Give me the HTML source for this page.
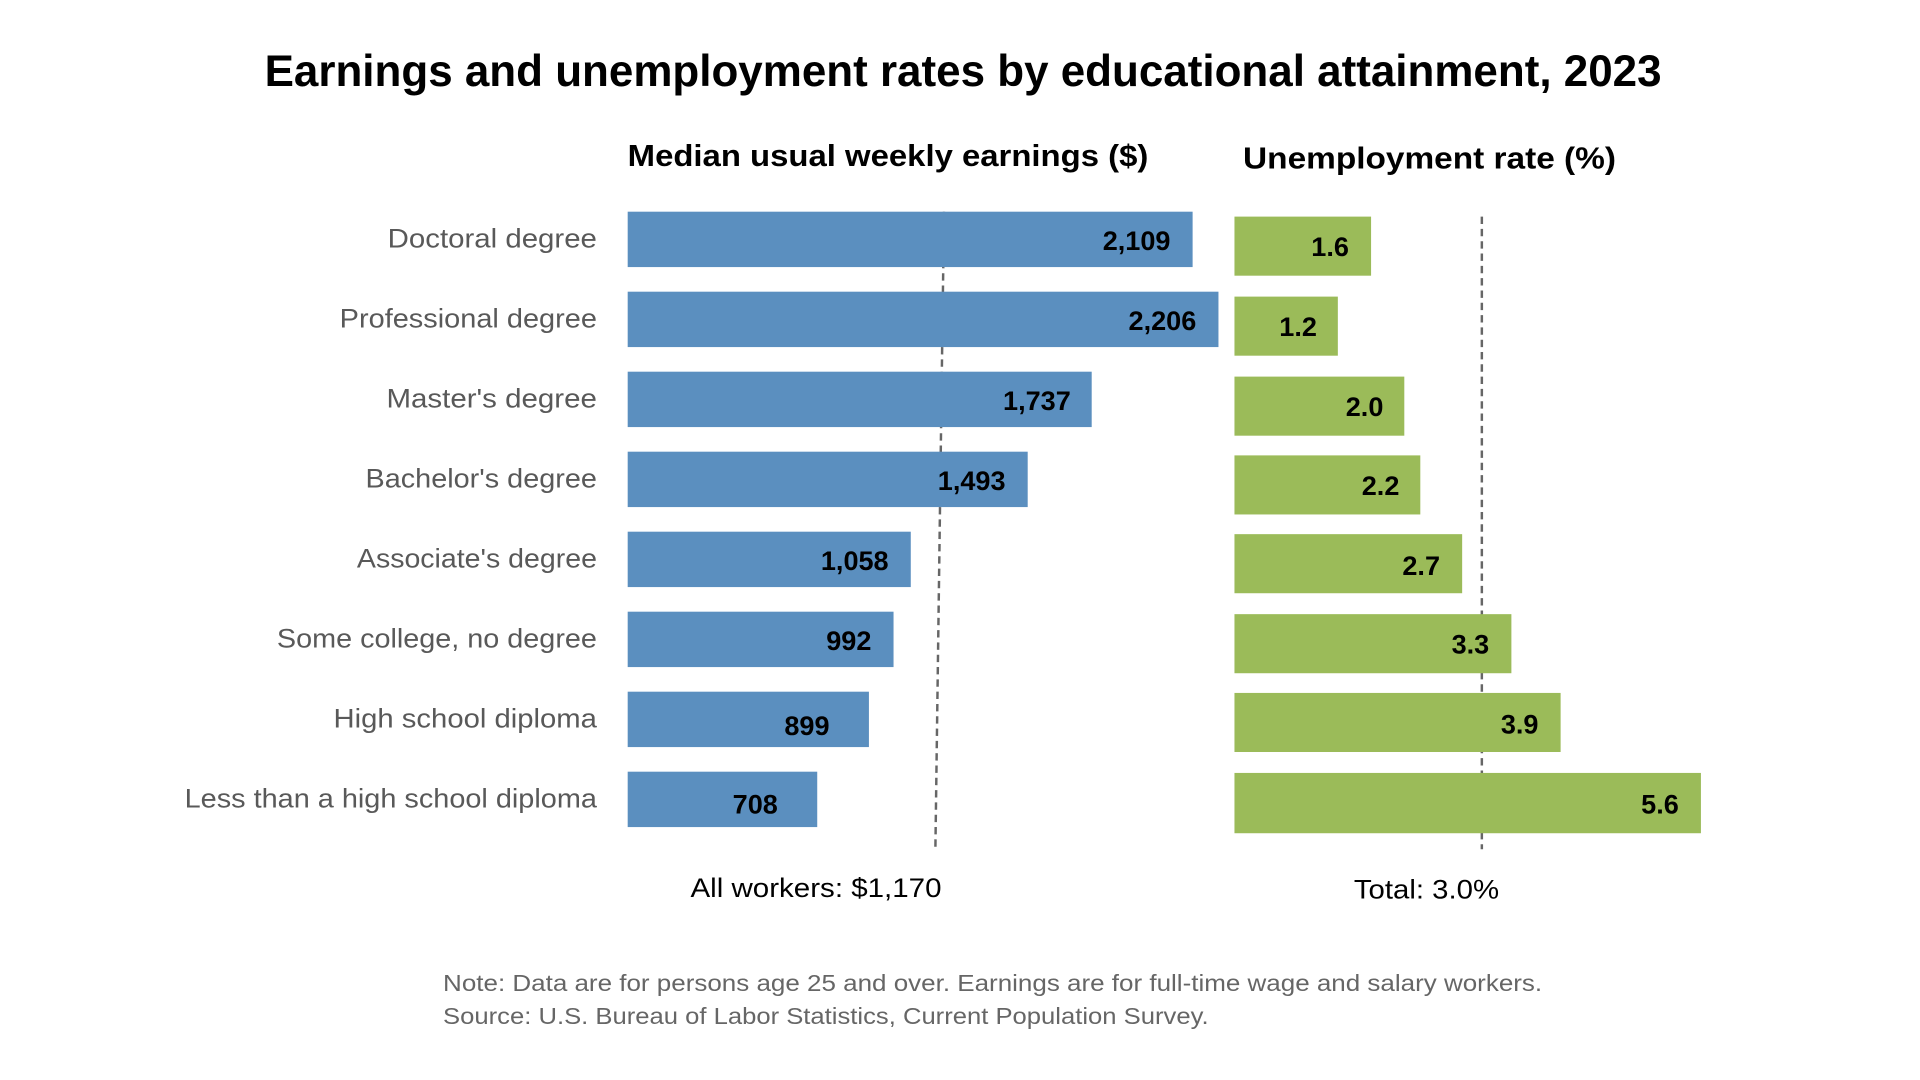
<!DOCTYPE html>
<html><head><meta charset="utf-8"><style>
html,body{margin:0;padding:0;background:#fff;}
svg{display:block;}
text{font-family:"Liberation Sans",Arial,sans-serif;}
</style></head><body>
<svg width="1920" height="1080" viewBox="0 0 1560 877.5" xmlns="http://www.w3.org/2000/svg">
<rect width="1560" height="877.5" fill="#fff"/>
<text x="215" y="70" font-size="36" font-weight="bold" fill="#000" textLength="1135" lengthAdjust="spacingAndGlyphs">Earnings and unemployment rates by educational attainment, 2023</text>
<text x="510" y="135" font-size="25" font-weight="bold" fill="#000" textLength="423" lengthAdjust="spacingAndGlyphs">Median usual weekly earnings ($)</text>
<text x="1010" y="137" font-size="25" font-weight="bold" fill="#000" textLength="303" lengthAdjust="spacingAndGlyphs">Unemployment rate (%)</text>
<g stroke="#666" stroke-width="2" stroke-dasharray="6,4" fill="none">
<line x1="767" y1="172" x2="760" y2="690"/>
<line x1="1204" y1="176" x2="1204" y2="690"/>
</g>
<g fill="#5B8FBF">
<rect x="510" y="172" width="459" height="45"/>
<rect x="510" y="237" width="480" height="45"/>
<rect x="510" y="302" width="377" height="45"/>
<rect x="510" y="367" width="325" height="45"/>
<rect x="510" y="432" width="230" height="45"/>
<rect x="510" y="497" width="216" height="45"/>
<rect x="510" y="562" width="196" height="45"/>
<rect x="510" y="627" width="154" height="45"/>
</g>
<g fill="#9BBB59">
<rect x="1003" y="176" width="111" height="48"/>
<rect x="1003" y="241" width="84" height="48"/>
<rect x="1003" y="306" width="138" height="48"/>
<rect x="1003" y="370" width="151" height="48"/>
<rect x="1003" y="434" width="185" height="48"/>
<rect x="1003" y="499" width="225" height="48"/>
<rect x="1003" y="563" width="265" height="48"/>
<rect x="1003" y="628" width="379" height="49"/>
</g>
<g font-size="22" font-weight="bold" fill="#000" text-anchor="end">
<text x="951" y="203">2,109</text>
<text x="972" y="268">2,206</text>
<text x="870" y="333">1,737</text>
<text x="817" y="398">1,493</text>
<text x="722" y="463">1,058</text>
<text x="708" y="528">992</text>
<text x="674" y="597">899</text>
<text x="632" y="661">708</text>
<text x="1096" y="208">1.6</text>
<text x="1070" y="273">1.2</text>
<text x="1124" y="338">2.0</text>
<text x="1137" y="402">2.2</text>
<text x="1170" y="467">2.7</text>
<text x="1210" y="531">3.3</text>
<text x="1250" y="596">3.9</text>
<text x="1364" y="661">5.6</text>
</g>
<g font-size="22" fill="#595959" lengthAdjust="spacingAndGlyphs">
<text x="315" y="201" textLength="170" lengthAdjust="spacingAndGlyphs">Doctoral degree</text>
<text x="276" y="266" textLength="209" lengthAdjust="spacingAndGlyphs">Professional degree</text>
<text x="314" y="331" textLength="171" lengthAdjust="spacingAndGlyphs">Master's degree</text>
<text x="297" y="396" textLength="188" lengthAdjust="spacingAndGlyphs">Bachelor's degree</text>
<text x="290" y="461" textLength="195" lengthAdjust="spacingAndGlyphs">Associate's degree</text>
<text x="225" y="526" textLength="260" lengthAdjust="spacingAndGlyphs">Some college, no degree</text>
<text x="271" y="591" textLength="214" lengthAdjust="spacingAndGlyphs">High school diploma</text>
<text x="150" y="656" textLength="335" lengthAdjust="spacingAndGlyphs">Less than a high school diploma</text>
</g>
<text x="561" y="729" font-size="22" fill="#000" textLength="204" lengthAdjust="spacingAndGlyphs">All workers: $1,170</text>
<text x="1100" y="730" font-size="22" fill="#000" textLength="118" lengthAdjust="spacingAndGlyphs">Total: 3.0%</text>
<text x="360" y="805" font-size="19" fill="#666" textLength="893" lengthAdjust="spacingAndGlyphs">Note: Data are for persons age 25 and over. Earnings are for full-time wage and salary workers.</text>
<text x="360" y="832" font-size="19" fill="#666" textLength="622" lengthAdjust="spacingAndGlyphs">Source: U.S. Bureau of Labor Statistics, Current Population Survey.</text>
</svg>
</body></html>
